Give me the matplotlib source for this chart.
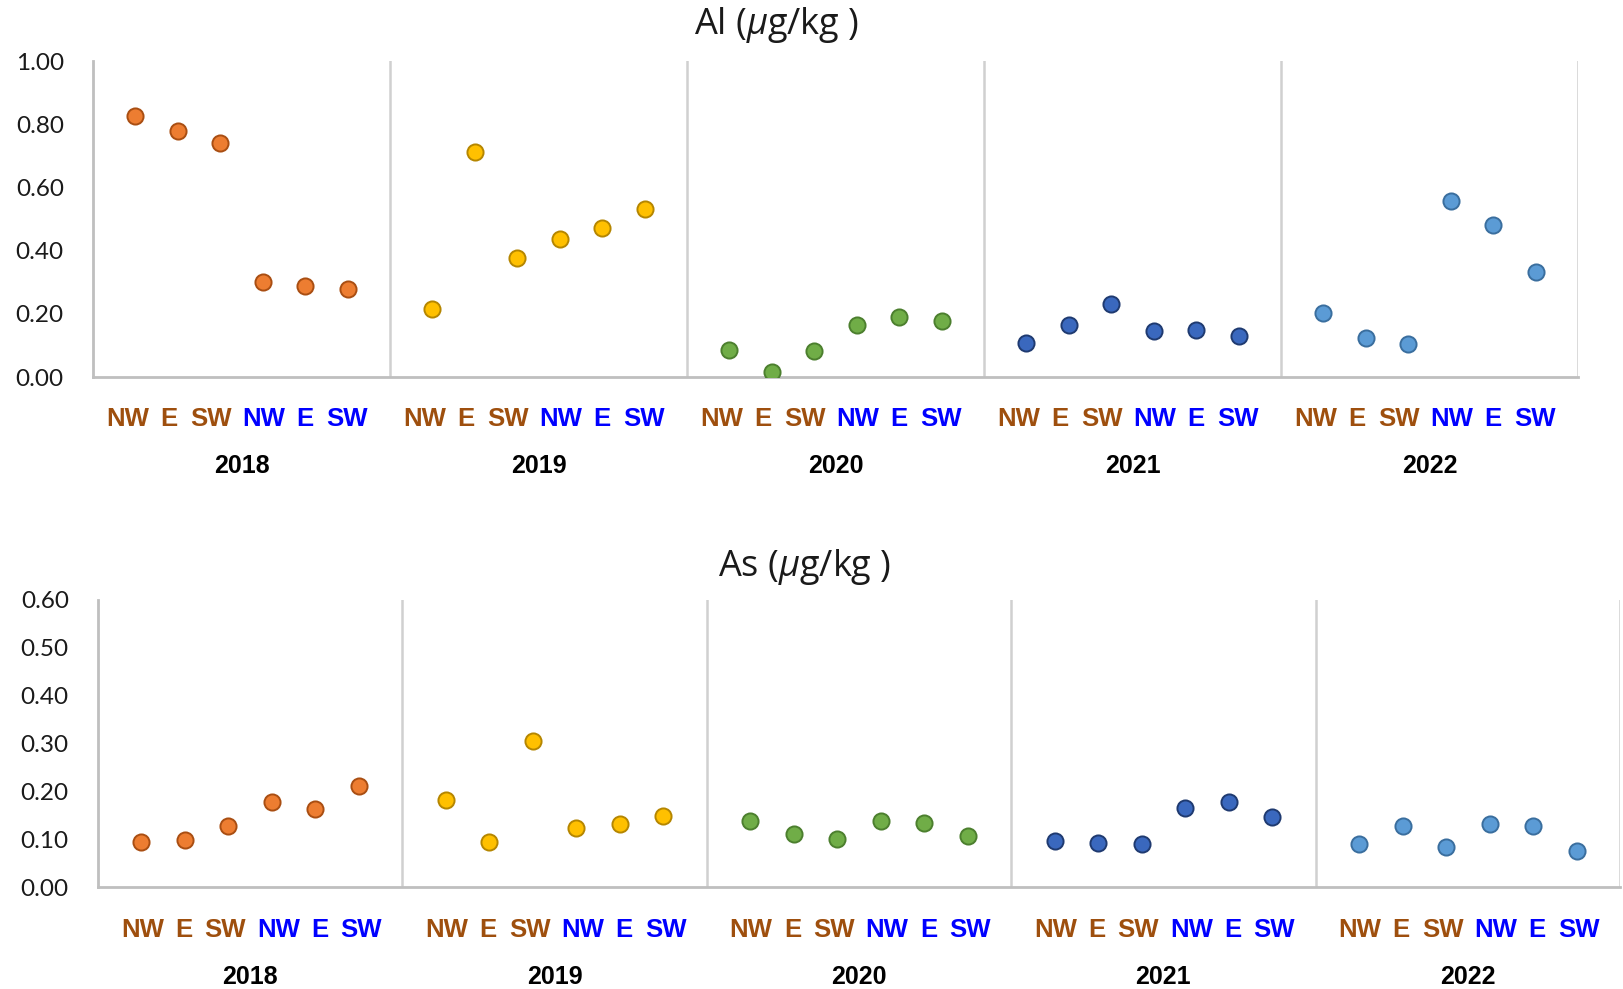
import matplotlib
matplotlib.use("Agg")
import matplotlib.pyplot as plt

years = ["2018", "2019", "2020", "2021", "2022"]
directions = ["NW", "E", "SW", "NW", "E", "SW"]
direction_colors = ["#9E4F0E", "#9E4F0E", "#9E4F0E", "#0000FF", "#0000FF", "#0000FF"]

al_2018 = [0.826, 0.780, 0.740, 0.300, 0.288, 0.279]
al_2019 = [0.216, 0.711, 0.377, 0.436, 0.472, 0.531]
al_2020 = [0.085, 0.016, 0.082, 0.164, 0.190, 0.177]
al_2021 = [0.108, 0.164, 0.230, 0.144, 0.148, 0.131]
al_2022 = [0.203, 0.124, 0.104, 0.557, 0.480, 0.332]

as_2018 = [0.094, 0.098, 0.127, 0.178, 0.163, 0.211]
as_2019 = [0.181, 0.095, 0.305, 0.123, 0.132, 0.149]
as_2020 = [0.138, 0.110, 0.101, 0.138, 0.134, 0.106]
as_2021 = [0.097, 0.093, 0.089, 0.166, 0.177, 0.147]
as_2022 = [0.090, 0.128, 0.084, 0.132, 0.128, 0.075]

year_face = ["#ED7D31", "#FFC000", "#70AD47", "#3A68BE", "#5B9BD5"]
year_edge = ["#A94E12", "#B58600", "#4C7F2E", "#1F3A70", "#3A6E9E"]

al_ticks = [0.0, 0.2, 0.4, 0.6, 0.8, 1.0]
as_ticks = [0.0, 0.1, 0.2, 0.3, 0.4, 0.5, 0.6]

label_family = "Liberation Sans"

plt.rcParams["mathtext.fontset"] = "custom"
plt.rcParams["mathtext.rm"] = "Open Sans"
plt.rcParams["mathtext.it"] = "Open Sans:italic"

W, H = 1623, 989
fig = plt.figure(figsize=(W / 100, H / 100), dpi=100)

grid_gray = "#D0D0D0"
axis_gray = "#BFBFBF"
slots = len(directions) + 1
PT = 0.72  # points per pixel at 100 dpi

# direction label centres, in pixels from the middle of each year block
label_dx = [-110.0, -68.5, -27.0, 26.0, 67.5, 109.0]


def draw_panel(rect, series, ticks, title, title_xy, cat_off, year_off, shift):
    ax = fig.add_axes(rect)
    n = len(years)
    for i, vals in enumerate(series):
        xs = [slots * i + j + 1 for j in range(len(vals))]
        ax.scatter(xs, vals, s=135, c=year_face[i], edgecolors=year_edge[i],
                   linewidths=1.4, zorder=3)
    ax.set_xlim(0, slots * n)
    ax.set_ylim(ticks[0], ticks[-1])
    ax.set_yticks(ticks)
    ax.set_yticklabels([f"{t:.2f}" for t in ticks], fontfamily="Lato",
                       fontsize=17.5, color="#1A1A1A")
    ax.tick_params(axis="y", length=0, pad=21)
    ax.set_xticks([])
    for side in ("top", "right"):
        ax.spines[side].set_visible(False)
    for side in ("left", "bottom"):
        ax.spines[side].set_color(axis_gray)
        ax.spines[side].set_linewidth(2)
    for k in range(1, n + 1):
        ax.axvline(slots * k, color=grid_gray, lw=1.8, zorder=1)
    for i, yr in enumerate(years):
        mid = slots * i + slots / 2
        for j, d in enumerate(directions):
            ax.annotate(d, xy=(mid, 0), xycoords=("data", "axes fraction"),
                        xytext=((label_dx[j] + shift) * PT, -cat_off),
                        textcoords="offset points",
                        ha="center", va="center", fontsize=18.5, fontweight="bold",
                        family=label_family, color=direction_colors[j])
        ax.annotate(yr, xy=(mid, 0), xycoords=("data", "axes fraction"),
                    xytext=(0, -year_off), textcoords="offset points",
                    ha="center", va="center", fontsize=18, fontweight="bold",
                    family=label_family, color="black")
    fig.text(title_xy[0], title_xy[1], title, ha="center", va="center", fontsize=26,
             family="Open Sans", color="#1A1A1A")
    return ax


al_series = [al_2018, al_2019, al_2020, al_2021, al_2022]
as_series = [as_2018, as_2019, as_2020, as_2021, as_2022]

draw_panel([93 / W, 1 - 377 / H, 1485 / W, 316 / H], al_series, al_ticks,
           "Al ($\\mu$g/kg )", (777 / W, 1 - 25 / H), 30, 64, -4)
draw_panel([98 / W, 1 - 887 / H, 1522 / W, 287 / H], as_series, as_ticks,
           "As ($\\mu$g/kg )", (805 / W, 1 - 567 / H), 31, 65, 2)

fig.savefig("out.png", dpi=100, facecolor="white")
